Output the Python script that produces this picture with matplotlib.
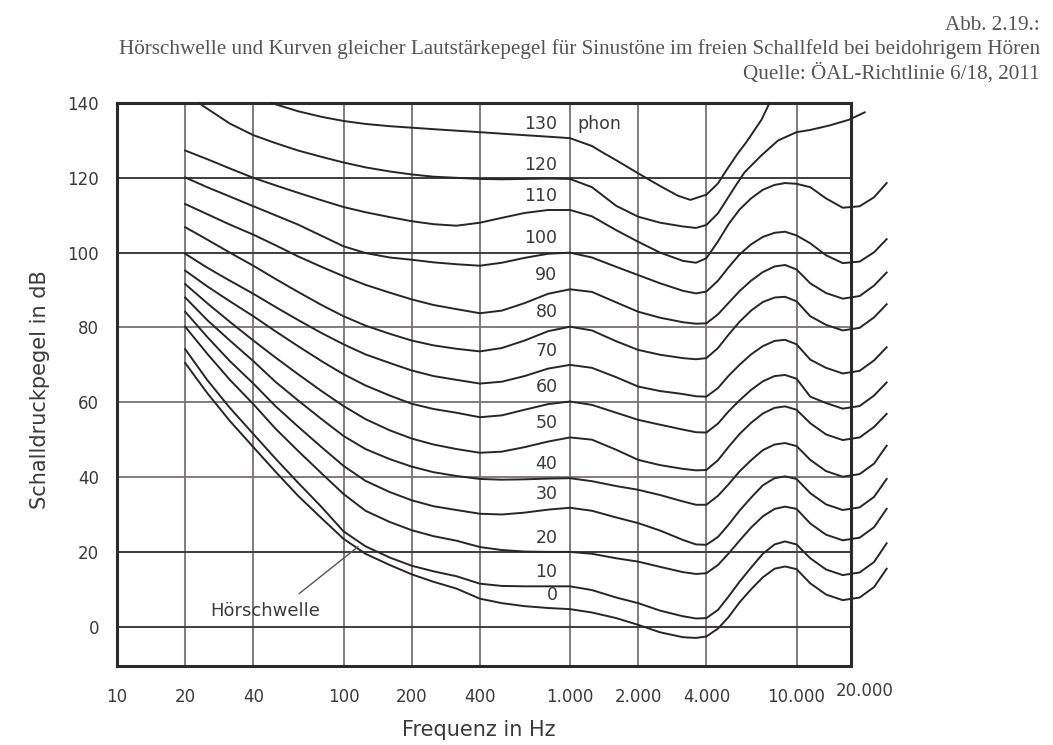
import matplotlib
matplotlib.use("Agg")
import matplotlib.pyplot as plt
from matplotlib.transforms import blended_transform_factory

FREQ = [20, 25, 31.5, 40, 50, 63, 80, 100, 125, 160, 200, 250, 315, 400, 500,
        630, 800, 1000, 1250, 1600, 2000, 2500, 3150, 3600, 4000, 4500, 5000,
        5600, 6300, 7100, 8000, 8900, 10000, 11500, 13500, 16000, 19000, 22000, 25000]

PHON_0 = [70.5, 62.5, 55, 48, 41.5, 35, 29, 23.5, 19.5, 16.5, 14, 12, 10.2, 7.5, 6.3,
          5.5, 5, 4.7, 3.8, 2.3, 0.5, -1.5, -2.8, -3.0, -2.6, -0.5, 2.5,
          6.5, 10, 13.2, 15.5, 16.1, 15.4, 11.6, 8.6, 7.1, 7.8, 10.6, 15.5]
PHON_10 = [74.2, 66, 58.5, 51.5, 45, 38.5, 32, 25.5, 21.5, 18.5, 16.3, 14.8, 13.5, 11.5, 10.9,
           10.8, 10.8, 10.8, 9.8, 7.8, 6.3, 4.3, 2.8, 2.2, 2.3, 4.5, 8,
           12, 15.8, 19.5, 22, 22.8, 22, 18.3, 15.3, 13.8, 14.5, 17.3, 22.3]
PHON_20 = [80.2, 73, 66, 59.5, 53, 47, 41, 35.5, 31, 28, 25.8, 24.2, 23, 21.3, 20.5,
           20.1, 20, 20, 19.5, 18.3, 17.4, 16, 14.6, 14.1, 14.3, 16.5, 19.5,
           23, 26.5, 29.5, 31.5, 32.1, 31.5, 27.6, 24.6, 23.1, 23.8, 26.6, 31.5]
PHON_30 = [84.2, 77.5, 71, 65, 59, 53.5, 48, 43, 39, 36, 33.8, 32.2, 31.2, 30.2, 30,
           30.5, 31.3, 31.8, 31, 29.2, 27.7, 25.7, 23.2, 22, 21.9, 24, 27.2,
           31, 34.5, 37.8, 39.7, 40.2, 39.5, 35.7, 32.7, 31.2, 31.9, 34.7, 39.5]
PHON_40 = [88, 82, 76.5, 71, 65.5, 60.5, 55.5, 51, 47.5, 44.8, 42.8, 41.3, 40.3, 39.5, 39.3,
           39.4, 39.6, 39.7, 38.9, 37.6, 36.6, 35.2, 33.5, 32.6, 32.6, 35, 38,
           41.5, 44.5, 47.2, 48.7, 49.1, 48.3, 44.6, 41.6, 40.1, 40.8, 43.6, 48.4]
PHON_50 = [91.6, 86.5, 81.5, 76.5, 72, 67.5, 63, 59, 55.5, 52.5, 50.3, 48.7, 47.5, 46.5, 46.8,
           48, 49.5, 50.6, 50, 47.3, 44.6, 43.2, 42.2, 41.8, 41.9, 44.5, 48,
           51.5, 54.5, 57, 58.5, 58.9, 58, 54.4, 51.4, 49.9, 50.6, 53.4, 56.9]
PHON_60 = [95.2, 91, 87, 83, 79, 75, 71, 67.5, 64.5, 61.8, 59.6, 58.2, 57.2, 56, 56.5,
           58, 59.5, 60.2, 59.3, 57.2, 55.3, 54, 52.7, 52, 51.9, 54.3, 57.5,
           60.5, 63.3, 65.6, 67, 67.3, 66.3, 61.5, 59.8, 58.3, 59, 61.8, 65.3]
PHON_70 = [99.7, 96, 92.5, 89, 85.5, 82, 78.5, 75.5, 72.8, 70.5, 68.5, 67, 66, 65, 65.5,
           67, 69, 70, 69.2, 66.7, 64.2, 63, 62.2, 61.6, 61.5, 63.8, 67,
           70, 72.8, 75, 76.4, 76.7, 75.5, 71.4, 69.2, 67.7, 68.4, 71.2, 74.7]
PHON_80 = [106.8, 103.5, 100, 96.5, 93, 89.5, 86, 83, 80.5, 78.3, 76.5, 75.2, 74.3, 73.6, 74.5,
           76.5, 79, 80.2, 79.2, 76.3, 74, 72.7, 71.8, 71.5, 71.8, 74.5, 78,
           81.5, 84.5, 86.8, 88, 88.2, 87, 83, 80.7, 79.2, 79.9, 82.7, 86.2]
PHON_90 = [113, 110.3, 107.5, 104.8, 102, 99, 96.2, 93.7, 91.4, 89.3, 87.5, 86, 84.9, 83.8, 84.5,
           86.5, 89, 90.2, 89.5, 86.7, 84.2, 82.6, 81.4, 81, 81.1, 83.5, 86.5,
           89.7, 92.5, 94.8, 96.3, 96.7, 95.5, 91.8, 89.2, 87.7, 88.4, 91.2, 94.7]
PHON_100 = [120.1, 117.5, 115, 112.4, 110, 107.5, 104.5, 101.7, 99.9, 98.7, 98.1, 97.4, 96.9, 96.5, 97.3,
            98.6, 99.7, 100, 98.7, 96.2, 94, 91.8, 89.8, 89.1, 89.6, 92.5, 96,
            99.5, 102.2, 104.2, 105.3, 105.6, 104.6, 102.5, 99.3, 97.2, 97.6, 100.1, 103.6]
PHON_110 = [127.3, 125, 122.5, 120, 118, 116, 114, 112.2, 110.8, 109.5, 108.4, 107.6, 107.2, 108, 109.3,
            110.6, 111.4, 111.4, 109.7, 106, 102.9, 100, 97.8, 97.3, 98.5, 103, 107.5,
            111.5, 114.5, 116.8, 118.1, 118.6, 118.4, 117.5, 114.5, 112, 112.4, 114.8, 118.6]

FREQ_120 = [23, 25, 31.5, 40, 50, 63, 80, 100, 125, 160, 200, 250, 315, 400, 500, 630,
            800, 1000, 1250, 1600, 2000, 2500, 3150, 3600, 4000, 4500, 4900, 5400, 5900,
            7000, 8300, 10000, 11500, 14000, 17000, 20000]
PHON_120 = [140, 138.5, 134.5, 131.4, 129.3, 127.3, 125.6, 124.1, 122.8, 121.7, 120.9, 120.3,
            120, 119.7, 119.6, 119.7, 119.8, 119.7, 117.5, 112.5, 109.6, 108, 107, 106.6,
            107.4, 110.5, 114, 118, 121.5, 126, 130, 132.2, 132.8, 134, 135.5, 137.5]

FREQ_130 = [48, 63, 80, 100, 125, 160, 200, 250, 315, 400, 500, 630, 800, 1000, 1250,
            1400, 1600, 2000, 2500, 3000, 3400, 4000, 4500, 4900, 5500, 6000, 7000, 7600]
PHON_130 = [140, 137.8, 136.3, 135.2, 134.4, 133.8, 133.4, 133, 132.6, 132.2, 131.8, 131.4,
            131, 130.6, 128.5, 126.7, 124.7, 121.2, 117.8, 115.2, 114.1, 115.5, 118.5, 122,
            126.5, 129.5, 135.5, 140]

CURVES = [PHON_0, PHON_10, PHON_20, PHON_30, PHON_40, PHON_50, PHON_60,
          PHON_70, PHON_80, PHON_90, PHON_100, PHON_110]
LEVELS = [0, 10, 20, 30, 40, 50, 60, 70, 80, 90, 100, 110, 120, 130]

X_TICKS = [10, 20, 40, 100, 200, 400, 1000, 2000, 4000, 10000]
X_LABELS = ["10", "20", "40", "100", "200", "400", "1.000", "2.000", "4.000", "10.000"]
Y_TICKS = [0, 20, 40, 60, 80, 100, 120, 140]

TEXT = "#3a3a3a"
CURVE = "#262626"
GRID = "#7a7070"

fig = plt.figure(figsize=(10.53, 7.45), dpi=100)
ax = fig.add_axes([117 / 1053, 1 - 666 / 745, (851 - 117) / 1053, (666 - 103) / 745])
ax.set_xscale("log")
ax.set_xlim(10, 17400)
ax.set_ylim(-10.5, 140)

for f in X_TICKS[1:]:
    ax.axvline(f, color=GRID, lw=1.3, zorder=1)
for y in Y_TICKS[:-1]:
    dark = y in (0, 20, 100, 120)
    ax.axhline(y, color="#3c3c3c" if dark else GRID, lw=1.4 if dark else 1.3, zorder=1)

for vals in CURVES:
    ax.plot(FREQ, vals, color=CURVE, lw=1.4, zorder=3, clip_on=False)
ax.plot(FREQ_120, PHON_120, color=CURVE, lw=1.4, zorder=3, clip_on=False)
ax.plot(FREQ_130, PHON_130, color=CURVE, lw=1.4, zorder=3, clip_on=False)

# phon labels just left of the 1 kHz line
at_1k = [c[FREQ.index(1000)] for c in CURVES] + [PHON_120[FREQ_120.index(1000)],
                                                 PHON_130[FREQ_130.index(1000)]]
for lvl, y in zip(LEVELS, at_1k):
    ax.text(880, y + 3.8, str(lvl), ha="right", va="center", fontsize=12.5, color=TEXT)
ax.text(1080, at_1k[-1] + 3.8, "phon", ha="left", va="center", fontsize=12.5, color=TEXT)

ax.annotate("Hörschwelle", xy=(116, 21.4), xytext=(45, 4.3), fontsize=13, color=TEXT,
            ha="center", va="center",
            arrowprops=dict(arrowstyle="-", color="#555555", lw=1.0,
                            shrinkA=6, shrinkB=0, relpos=(0.72, 1.0)))

ax.set_xticks(X_TICKS)
ax.set_xticklabels(X_LABELS)
ax.set_yticks(Y_TICKS)
ax.minorticks_off()
ax.tick_params(length=0, labelsize=12, labelcolor=TEXT, pad=13)
ax.tick_params(axis="x", pad=16)
trans = blended_transform_factory(ax.transData, ax.transAxes)
ax.text(20000, -0.028, "20.000", transform=trans, ha="center", va="top", fontsize=12,
        color=TEXT, clip_on=False)

for s in ax.spines.values():
    s.set_color("#2a2a2a")
    s.set_linewidth(2.2)

fig.text(479 / 1053, 1 - 730 / 745, "Frequenz in Hz", ha="center", va="center",
         fontsize=15, color=TEXT)
fig.text(40 / 1053, 1 - 390 / 745, "Schalldruckpegel in dB", ha="center", va="center",
         rotation=90, fontsize=15, color=TEXT)

title = ["Abb. 2.19.:",
         "Hörschwelle und Kurven gleicher Lautstärkepegel für Sinustöne im freien Schallfeld bei beidohrigem Hören",
         "Quelle: ÖAL-Richtlinie 6/18, 2011"]
for i, line in enumerate(title):
    fig.text(1040 / 1053, 1 - (25 + 24 * i) / 745, line, ha="right", va="center",
             fontsize=15.2, family="Liberation Serif", color="#555555")

fig.savefig("out.png", dpi=100)
